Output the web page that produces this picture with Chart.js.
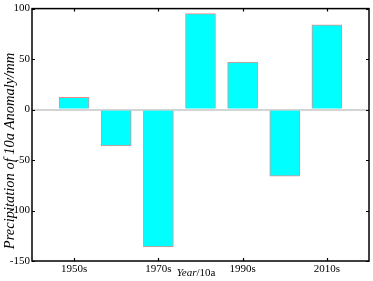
<!DOCTYPE html>
<html>
<head>
<meta charset="utf-8">
<script src="https://cdn.jsdelivr.net/npm/chart.js@4"></script>
<style>
  html, body { margin: 0; padding: 0; background: #fff; }
  #wrap { width: 373px; height: 281px; }
</style>
</head>
<body>
<div id="wrap"><canvas id="myChart"></canvas></div>
<script>
const decades = [1950, 1960, 1970, 1980, 1990, 2000, 2010];
const anomaly = [12, -36, -136, 95, 47, -66, 84];
const xTicks = [1950, 1970, 1990, 2010];
const yTicks = [100, 50, 0, -50, -100, -150];

const serif = "'Liberation Serif', 'Times New Roman', serif";

// box, inward ticks and axis titles
const frame = {
  id: "frame",
  afterDraw(chart) {
    const c = chart.ctx;
    const a = chart.chartArea;
    const xs = chart.scales.x;
    const ys = chart.scales.y;
    c.save();
    c.strokeStyle = "#000";
    c.lineWidth = 1.5;
    c.strokeRect(a.left, a.top, a.right - a.left, a.bottom - a.top);
    c.lineWidth = 1.2;
    c.beginPath();
    xTicks.forEach((t) => {
      const px = Math.round(xs.getPixelForValue(t)) + 0.5;
      c.moveTo(px, a.top); c.lineTo(px, a.top + 3);
      c.moveTo(px, a.bottom); c.lineTo(px, a.bottom - 3);
    });
    yTicks.forEach((t) => {
      const py = Math.round(ys.getPixelForValue(t)) + 0.5;
      c.moveTo(a.left, py); c.lineTo(a.left + 3, py);
      c.moveTo(a.right, py); c.lineTo(a.right - 3, py);
    });
    c.stroke();

    c.fillStyle = "#000";
    c.textBaseline = "middle";
    // x title
    const p1 = "Year", p2 = "/10a";
    c.font = "italic 11px " + serif;
    const w1 = c.measureText(p1).width;
    c.font = "11px " + serif;
    const w2 = c.measureText(p2).width;
    let x0 = 196 - (w1 + w2) / 2;
    c.textAlign = "left";
    c.font = "italic 11px " + serif;
    c.fillText(p1, x0, 273);
    c.font = "11px " + serif;
    c.fillText(p2, x0 + w1, 273);
    // y title
    c.translate(10, 151);
    c.rotate(-Math.PI / 2);
    c.textAlign = "center";
    c.font = "italic 14.5px " + serif;
    c.fillText("Precipitation of 10a Anomaly/mm", 0, 0);
    c.restore();
  }
};

new Chart(document.getElementById("myChart"), {
  type: "bar",
  data: {
    datasets: [{
      data: decades.map((d, i) => ({ x: d, y: anomaly[i] })),
      backgroundColor: "#00ffff",
      borderColor: "#f08a8a",
      borderWidth: 1,
      barThickness: 30
    }]
  },
  options: {
    responsive: true,
    maintainAspectRatio: false,
    animation: false,
    layout: { padding: { top: 7, right: 4, left: 0, bottom: 0 } },
    plugins: { legend: { display: false }, tooltip: { enabled: false } },
    scales: {
      x: {
        type: "linear",
        min: 1940,
        max: 2020,
        offset: false,
        afterBuildTicks: (s) => { s.ticks = xTicks.map((v) => ({ value: v })); },
        afterFit: (s) => { s.height = 20; },
        border: { display: false },
        grid: { display: false, drawTicks: false, offset: false },
        ticks: {
          padding: 2,
          color: "#000",
          font: { family: serif, size: 11 },
          callback: (v) => v + "s"
        }
      },
      y: {
        min: -150,
        max: 100,
        afterBuildTicks: (s) => { s.ticks = yTicks.map((v) => ({ value: v })); },
        afterFit: (s) => { s.width = 32; },
        border: { display: false },
        grid: {
          drawTicks: false,
          color: (ctx) => (ctx.tick && ctx.tick.value === 0 ? "#d4d4d4" : "rgba(0,0,0,0)"),
          lineWidth: 2
        },
        ticks: {
          padding: 2,
          color: "#000",
          font: { family: serif, size: 11 }
        }
      }
    }
  },
  plugins: [frame]
});
</script>
</body>
</html>
